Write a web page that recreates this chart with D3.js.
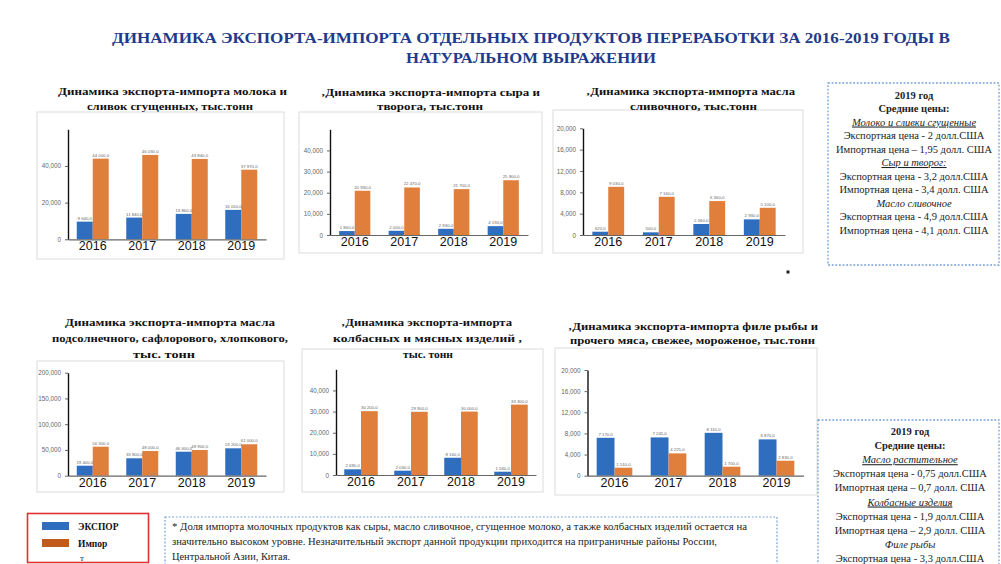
<!DOCTYPE html>
<html lang="ru">
<head>
<meta charset="utf-8">
<script src="https://cdn.jsdelivr.net/npm/d3@7"></script>
<style>
  html, body { margin: 0; padding: 0; background: #fff; }
  svg { display: block; }
</style>
</head>
<body>
<svg id="slide" width="1001" height="564"></svg>
<script>
// ---- Data -------------------------------------------------------------
const years = ["2016", "2017", "2018", "2019"];

// Молоко и сливки сгущенные, тонн
const milkExport = [9640, 11840, 13860, 16050];
const milkImport = [44000, 46030, 43840, 37970];
const milkTicks = [0, 20000, 40000];

// Сыр и творог, тонн
const cheeseExport = [1860, 2000, 2930, 4190];
const cheeseImport = [20930, 22470, 21700, 25900];
const cheeseTicks = [0, 10000, 20000, 30000, 40000];

// Масло сливочное, тонн
const butterExport = [620, 500, 2060, 2930];
const butterImport = [9030, 7160, 6360, 5100];
const butterTicks = [0, 4000, 8000, 12000, 16000, 20000];

// Масло подсолнечное, сафлоровое, хлопковое, тонн
const oilExport = [19400, 33800, 46600, 53200];
const oilImport = [56300, 48000, 49900, 61000];
const oilTicks = [0, 50000, 100000, 150000, 200000];

// Колбасные и мясные изделия, тонн
const sausageExport = [2690, 2030, 8160, 1560];
const sausageImport = [30200, 29900, 30000, 33300];
const sausageTicks = [0, 10000, 20000, 30000, 40000];

// Филе рыбы и прочее мясо, тонн
const fishExport = [7170, 7245, 8110, 6870];
const fishImport = [1510, 4225, 1700, 2830];
const fishTicks = [0, 4000, 8000, 12000, 16000, 20000];

const seriesNames = ["ЭКСПОР", "Импор"];

const slideTitle = [
  "ДИНАМИКА  ЭКСПОРТА-ИМПОРТА ОТДЕЛЬНЫХ  ПРОДУКТОВ ПЕРЕРАБОТКИ ЗА 2016-2019 ГОДЫ В",
  "НАТУРАЛЬНОМ ВЫРАЖЕНИИ"
];

const milkTitle = ["Динамика экспорта-импорта  молока и", "сливок сгущенных, тыс.тонн"];
const cheeseTitle = ["‚Динамика экспорта-импорта  сыра и", "творога,  тыс.тонн"];
const butterTitle = ["‚Динамика экспорта-импорта  масла", "сливочного,  тыс.тонн"];
const oilTitle = ["Динамика экспорта-импорта  масла", "подсолнечного, сафлорового, хлопкового,", "тыс. тонн"];
const sausageTitle = ["‚Динамика экспорта-импорта", "колбасных   и мясных  изделий ,", "тыс. тонн"];
const fishTitle = ["‚Динамика экспорта-импорта  филе  рыбы и", "прочего мяса, свежее, мороженое, тыс.тонн"];

const priceNotesTop = [
  {t: "2019 год", s: "b"},
  {t: "Средние цены:", s: "b"},
  {t: "Молоко и сливки сгущенные", s: "iu"},
  {t: "Экспортная цена  - 2 долл.США", s: ""},
  {t: "Импортная цена – 1,95 долл. США", s: ""},
  {t: "Сыр и творог:", s: "iu"},
  {t: "Экспортная цена  - 3,2 долл.США", s: ""},
  {t: "Импортная  цена - 3,4  долл. США", s: ""},
  {t: "Масло сливочное", s: "i"},
  {t: "Экспортная цена  - 4,9 долл.США", s: ""},
  {t: "Импортная цена  - 4,1 долл. США", s: ""}
];

const priceNotesBottom = [
  {t: "2019 год", s: "b"},
  {t: "Средние цены:", s: "b"},
  {t: "Масло растительное", s: "iu"},
  {t: "Экспортная цена   - 0,75 долл.США", s: ""},
  {t: "Импортная цена – 0,7 долл. США", s: ""},
  {t: "Колбасные изделия", s: "iu"},
  {t: "Экспортная цена  - 1,9 долл.США", s: ""},
  {t: "Импортная  цена – 2,9  долл. США", s: ""},
  {t: "Филе рыбы", s: "i"},
  {t: "Экспортная цена  - 3,3 долл.США", s: ""}
];

const footnote = [
  "* Доля импорта  молочных  продуктов как сыры, масло сливочное, сгущенное молоко, а также колбасных изделий  остается на",
  "значительно высоком уровне. Незначительный экспорт данной продукции приходится на приграничные районы России,",
  "Центральной Азии, Китая."
];

// ---- Styling / layout ---------------------------------------------------
const SERIF = "'Liberation Serif', 'Times New Roman', 'DejaVu Serif', serif";
const SANS = "'Liberation Sans', Arial, sans-serif";
const BLUE = "#2f6dbf";
const ORANGE = "#e07e3c";
const LEGEND_ORANGE = "#c25a1c";
const TITLE_BLUE = "#1f3a8a";

const svg = d3.select("#slide");

// Slide title
svg.append("g").selectAll("text")
  .data(slideTitle)
  .join("text")
  .style("font-family", SERIF)
  .attr("x", 531)
  .attr("y", (d, i) => 43 + i * 20)
  .attr("text-anchor", "middle")
  .attr("font-size", 15)
  .attr("font-weight", "bold")
  .attr("fill", TITLE_BLUE)
  .attr("textLength", (d, i) => [838, 250][i])
  .attr("lengthAdjust", "spacingAndGlyphs")
  .text(d => d);

// Chart panels
const panels = [
  { exp: milkExport, imp: milkImport, ticks: milkTicks, max: 60000, title: milkTitle,
    titleY: 95, titleX: [[58, 287], [87, 253]],
    box: [37, 112, 247, 147], base: 239.3, top: 129.3, xr: [68, 266], groupPad: 0.354 },
  { exp: cheeseExport, imp: cheeseImport, ticks: cheeseTicks, max: 50000, title: cheeseTitle,
    titleY: 95.5, titleX: [[321, 540], [377, 483]],
    box: [299, 112, 243, 141], base: 235, top: 129.3, xr: [330, 528], groupPad: 0.37 },
  { exp: butterExport, imp: butterImport, ticks: butterTicks, max: 20000, title: butterTitle,
    titleY: 95, titleX: [[586, 795], [630, 757]],
    box: [553, 110, 250, 143], base: 235, top: 128.3, xr: [583, 785], groupPad: 0.37 },
  { exp: oilExport, imp: oilImport, ticks: oilTicks, max: 200000, title: oilTitle,
    titleY: 325.5, titleX: [[65, 275], [52, 288], [133, 195]],
    box: [37, 361, 247, 131], base: 475.7, top: 372.7, xr: [68, 266], groupPad: 0.354 },
  { exp: sausageExport, imp: sausageImport, ticks: sausageTicks, max: 50000, title: sausageTitle,
    titleY: 326, titleX: [[341, 512], [333, 522], [403, 453]],
    box: [302, 349, 241, 143], base: 475, top: 369.3, xr: [336, 536], groupPad: 0.33 },
  { exp: fishExport, imp: fishImport, ticks: fishTicks, max: 20000, title: fishTitle,
    titleY: 329.5, titleX: [[568, 818], [570, 815]],
    box: [555, 348, 262, 147], base: 475.7, top: 370, xr: [587.5, 803.5], groupPad: 0.34 }
];

const ru = d3.formatLocale({ decimal: ",", thousands: " ", grouping: [3], currency: ["", ""] });
const valueFmt = ru.format(",.1f");
const tickFmt = d3.format(",");

panels.forEach(p => {
  const g = svg.append("g");

  // light frame around the plot
  g.append("rect")
    .attr("x", p.box[0]).attr("y", p.box[1])
    .attr("width", p.box[2]).attr("height", p.box[3])
    .attr("fill", "none").attr("stroke", "#dcdcdc").attr("stroke-width", 1);

  // panel title
  g.selectAll("text.ptitle")
    .data(p.title)
    .join("text")
    .attr("class", "ptitle")
    .style("font-family", SERIF)
    .attr("x", (d, i) => p.titleX[i][0])
    .attr("y", (d, i) => p.titleY + i * (p.title.length === 3 ? 16.2 : 14.5))
    .attr("font-size", 11)
    .attr("font-weight", "bold")
    .attr("fill", "#111")
    .attr("textLength", (d, i) => p.titleX[i][1] - p.titleX[i][0])
    .attr("lengthAdjust", "spacingAndGlyphs")
    .text(d => d);

  const x = d3.scaleBand()
    .domain(years)
    .range(p.xr)
    .paddingInner(p.groupPad)
    .paddingOuter(p.groupPad / 2);
  const sub = d3.scaleBand()
    .domain(["exp", "imp"])
    .range([0, x.bandwidth()]);
  const y = d3.scaleLinear().domain([0, p.max]).range([p.base, p.top]);

  const rows = years.map((yr, i) => ({ yr, vals: [
    { key: "exp", v: p.exp[i], c: BLUE },
    { key: "imp", v: p.imp[i], c: ORANGE }
  ]}));

  const grp = g.append("g").selectAll("g")
    .data(rows)
    .join("g")
    .attr("transform", d => `translate(${x(d.yr)},0)`);

  grp.selectAll("rect")
    .data(d => d.vals)
    .join("rect")
    .attr("x", d => sub(d.key))
    .attr("width", sub.bandwidth())
    .attr("y", d => y(d.v))
    .attr("height", d => y(0) - y(d.v))
    .attr("fill", d => d.c);

  grp.selectAll("text")
    .data(d => d.vals)
    .join("text")
    .style("font-family", SANS)
    .attr("x", d => sub(d.key) + sub.bandwidth() / 2)
    .attr("y", d => y(d.v) - 2)
    .attr("text-anchor", "middle")
    .attr("font-size", 4.3)
    .attr("fill", "#666")
    .text(d => valueFmt(d.v));

  // y axis
  const ya = g.append("g")
    .attr("transform", `translate(${p.xr[0]},0)`)
    .call(d3.axisLeft(y).tickValues(p.ticks).tickSize(3).tickSizeOuter(0).tickPadding(4).tickFormat(tickFmt));
  ya.select(".domain").attr("stroke", "#111").attr("stroke-width", 1.4);
  ya.selectAll(".tick line").attr("stroke", "#666");
  ya.selectAll(".tick text")
    .style("font-family", SANS)
    .attr("font-size", 6.3)
    .attr("fill", "#666");

  // x axis with year labels
  const xa = g.append("g")
    .attr("transform", `translate(0,${p.base})`)
    .call(d3.axisBottom(x).tickSize(0).tickSizeOuter(0).tickPadding(2));
  xa.select(".domain").attr("stroke", "#666").attr("stroke-width", 1.2);
  xa.selectAll(".tick text")
    .style("font-family", SANS)
    .attr("font-size", 12.5)
    .attr("fill", "#111");
});

// Price notes (dotted frames)
function notesBox(rect, lines, cx, y0, step) {
  const g = svg.append("g");
  g.append("rect")
    .attr("x", rect[0]).attr("y", rect[1])
    .attr("width", rect[2]).attr("height", rect[3])
    .attr("fill", "none")
    .attr("stroke", "#6f9fd8")
    .attr("stroke-width", 1.3)
    .attr("stroke-dasharray", "1.8,1.8");
  g.selectAll("text")
    .data(lines)
    .join("text")
    .style("font-family", SERIF)
    .attr("x", cx)
    .attr("y", (d, i) => y0 + i * step)
    .attr("text-anchor", "middle")
    .attr("font-size", 10.5)
    .attr("fill", "#222")
    .attr("font-weight", d => d.s === "b" ? "bold" : "normal")
    .attr("font-style", d => d.s.includes("i") ? "italic" : "normal")
    .attr("text-decoration", d => d.s.includes("u") ? "underline" : "none")
    .text(d => d.t);
}
notesBox([828, 83, 171, 182], priceNotesTop, 914, 98.5, 13.5);
notesBox([818, 420, 181, 160], priceNotesBottom, 910, 435, 14.1);

// Footnote
const fg = svg.append("g");
fg.append("rect")
  .attr("x", 165).attr("y", 517).attr("width", 612).attr("height", 60)
  .attr("fill", "none").attr("stroke", "#6f9fd8")
  .attr("stroke-width", 1.2).attr("stroke-dasharray", "1.8,1.8");
fg.selectAll("text")
  .data(footnote)
  .join("text")
  .style("font-family", SERIF)
  .attr("x", 172)
  .attr("y", (d, i) => 530 + i * 15)
  .attr("font-size", 9.6)
  .attr("fill", "#222")
  .attr("textLength", (d, i) => [575, 545, 118][i])
  .attr("lengthAdjust", "spacingAndGlyphs")
  .text(d => d);

// Legend
const lg = svg.append("g");
lg.append("rect")
  .attr("x", 27.5).attr("y", 513.5).attr("width", 121).attr("height", 49)
  .attr("fill", "none").attr("stroke", "#e03030").attr("stroke-width", 1.6);
const legendItems = [
  { name: seriesNames[0], c: BLUE },
  { name: seriesNames[1], c: LEGEND_ORANGE }
];
const li = lg.selectAll("g.item")
  .data(legendItems)
  .join("g")
  .attr("class", "item")
  .attr("transform", (d, i) => `translate(42,${522 + i * 17})`);
li.append("rect").attr("width", 27).attr("height", 8).attr("fill", d => d.c);
li.append("text")
  .style("font-family", SERIF)
  .attr("x", 36).attr("y", 8)
  .attr("font-size", 9.5).attr("font-weight", "bold").attr("fill", "#111")
  .text(d => d.name);
lg.append("text")
  .style("font-family", SERIF)
  .attr("x", 80).attr("y", 561)
  .attr("font-size", 9).attr("fill", "#333")
  .text("т");

// small marker on the slide
svg.append("rect").attr("x", 786.5).attr("y", 270.5).attr("width", 3).attr("height", 3).attr("fill", "#222");
</script>
</body>
</html>
